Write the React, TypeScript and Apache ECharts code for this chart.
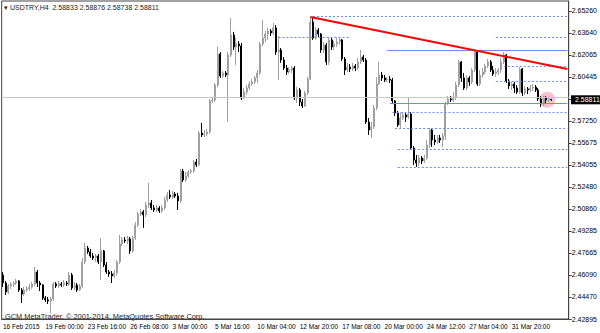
import React, { useEffect, useRef } from "react";
import * as echarts from "echarts";

// ---- axis labels ----
const xTickLabels = [
  "16 Feb 2015", "19 Feb 00:00", "23 Feb 16:00", "26 Feb 08:00", "3 Mar 00:00",
  "5 Mar 16:00", "10 Mar 04:00", "12 Mar 20:00", "17 Mar 08:00", "20 Mar 00:00",
  "24 Mar 12:00", "27 Mar 04:00", "31 Mar 20:00",
];
const yTickLabels = [
  "2.42895", "2.44470", "2.46090", "2.47665", "2.49285", "2.50860", "2.52480",
  "2.54055", "2.55675", "2.57250", "", "2.60445", "2.62065", "2.63640", "2.65260",
];
const Y_MIN = 2.42895;
const Y_STEP = 0.015975;
const Y_MAX = 2.65985;
const SLOT_COUNT = 214;
const BARS_PER_LABEL = 16;

// ---- H4 candles (open, close, low, high) ----
const opens = [
  2.4609, 2.4551, 2.4486, 2.4529, 2.4544, 2.4551, 2.4566, 2.4500, 2.4471, 2.4500,
  2.4508, 2.4522, 2.4544, 2.4631, 2.4551, 2.4537, 2.4442, 2.4428, 2.4420, 2.4435,
  2.4544, 2.4529, 2.4544, 2.4537, 2.4551, 2.4544, 2.4609, 2.4515, 2.4537, 2.4500,
  2.4529, 2.4704, 2.4805, 2.4776, 2.4747, 2.4733, 2.4747, 2.4704, 2.4784, 2.4682,
  2.4631, 2.4617, 2.4602, 2.4624, 2.4704, 2.4834, 2.4863, 2.4856, 2.4871, 2.4784,
  2.4878, 2.4972, 2.5052, 2.5067, 2.5045, 2.5118, 2.5132, 2.5096, 2.5081, 2.5096,
  2.5074, 2.5096, 2.5154, 2.5190, 2.5176, 2.5197, 2.5183, 2.5147, 2.5364, 2.5299,
  2.5328, 2.5357, 2.5364, 2.5430, 2.5408, 2.5640, 2.5626, 2.5633, 2.5648, 2.5873,
  2.5880, 2.5989, 2.6214, 2.6054, 2.6076, 2.6061, 2.6207, 2.6352, 2.6265, 2.6287,
  2.6272, 2.5894, 2.5938, 2.5967, 2.5996, 2.6011, 2.6040, 2.6076, 2.6287, 2.6330,
  2.6359, 2.6381, 2.6366, 2.6403, 2.6228, 2.6243, 2.6170, 2.6112, 2.6083, 2.6098,
  2.6112, 2.5894, 2.5953, 2.5865, 2.5836, 2.5931, 2.6032, 2.6446, 2.6330, 2.6388,
  2.6359, 2.6243, 2.6279, 2.6156, 2.6316, 2.6265, 2.6287, 2.6301, 2.6316, 2.6178,
  2.6098, 2.6119, 2.6105, 2.6127, 2.6112, 2.6156, 2.6192, 2.6170, 2.5720, 2.5662,
  2.5684, 2.5822, 2.5996, 2.6061, 2.6040, 2.6025, 2.6032, 2.6025, 2.5873, 2.5785,
  2.5698, 2.5749, 2.5771, 2.5756, 2.5778, 2.5531, 2.5444, 2.5422, 2.5459, 2.5437,
  2.5459, 2.5553, 2.5662, 2.5589, 2.5575, 2.5604, 2.5589, 2.5618, 2.5851, 2.5887,
  2.5880, 2.5902, 2.5989, 2.6156, 2.6040, 2.5967, 2.6040, 2.6011, 2.6098, 2.6228,
  2.5996, 2.6061, 2.6083, 2.6127, 2.6156, 2.6098, 2.6069, 2.6083, 2.6098, 2.6156,
  2.6207, 2.6018, 2.5982, 2.5996, 2.5967, 2.5938, 2.6105, 2.5931, 2.5960, 2.5953,
  2.5967, 2.5974, 2.5953, 2.5887, 2.5851, 2.5894, 2.5880, 2.58833,
];
const closes = [
  2.4551, 2.4486, 2.4529, 2.4544, 2.4551, 2.4566, 2.4500, 2.4471, 2.4500, 2.4508,
  2.4522, 2.4544, 2.4631, 2.4551, 2.4537, 2.4442, 2.4428, 2.4420, 2.4435, 2.4544,
  2.4529, 2.4544, 2.4537, 2.4551, 2.4544, 2.4609, 2.4515, 2.4537, 2.4500, 2.4529,
  2.4704, 2.4805, 2.4776, 2.4747, 2.4733, 2.4747, 2.4704, 2.4784, 2.4682, 2.4631,
  2.4617, 2.4602, 2.4624, 2.4704, 2.4834, 2.4863, 2.4856, 2.4871, 2.4784, 2.4878,
  2.4972, 2.5052, 2.5067, 2.5045, 2.5118, 2.5132, 2.5096, 2.5081, 2.5096, 2.5074,
  2.5096, 2.5154, 2.5190, 2.5176, 2.5197, 2.5183, 2.5147, 2.5364, 2.5299, 2.5328,
  2.5357, 2.5364, 2.5430, 2.5408, 2.5640, 2.5626, 2.5633, 2.5648, 2.5873, 2.5880,
  2.5989, 2.6214, 2.6054, 2.6076, 2.6061, 2.6207, 2.6352, 2.6265, 2.6287, 2.6272,
  2.5894, 2.5938, 2.5967, 2.5996, 2.6011, 2.6040, 2.6076, 2.6287, 2.6330, 2.6359,
  2.6381, 2.6366, 2.6403, 2.6228, 2.6243, 2.6170, 2.6112, 2.6083, 2.6098, 2.6112,
  2.5894, 2.5953, 2.5865, 2.5836, 2.5931, 2.6032, 2.6446, 2.6330, 2.6388, 2.6359,
  2.6243, 2.6279, 2.6156, 2.6316, 2.6265, 2.6287, 2.6301, 2.6316, 2.6178, 2.6098,
  2.6119, 2.6105, 2.6127, 2.6112, 2.6156, 2.6192, 2.6170, 2.5720, 2.5662, 2.5684,
  2.5822, 2.5996, 2.6061, 2.6040, 2.6025, 2.6032, 2.6025, 2.5873, 2.5785, 2.5698,
  2.5749, 2.5771, 2.5756, 2.5778, 2.5531, 2.5444, 2.5422, 2.5459, 2.5437, 2.5459,
  2.5553, 2.5662, 2.5589, 2.5575, 2.5604, 2.5589, 2.5618, 2.5851, 2.5887, 2.5880,
  2.5902, 2.5989, 2.6156, 2.6040, 2.5967, 2.6040, 2.6011, 2.6098, 2.6228, 2.5996,
  2.6061, 2.6083, 2.6127, 2.6156, 2.6098, 2.6069, 2.6083, 2.6098, 2.6156, 2.6207,
  2.6018, 2.5982, 2.5996, 2.5967, 2.5938, 2.6105, 2.5931, 2.5960, 2.5953, 2.5967,
  2.5974, 2.5953, 2.5887, 2.5851, 2.5894, 2.5880, 2.5887, 2.58811,
];
const lows = [
  2.4522, 2.4464, 2.4471, 2.4508, 2.4522, 2.4537, 2.4486, 2.4406, 2.4457, 2.4486,
  2.4493, 2.4508, 2.4529, 2.4522, 2.4493, 2.4428, 2.4413, 2.4398, 2.4333, 2.4420,
  2.4515, 2.4515, 2.4522, 2.4522, 2.4529, 2.4529, 2.4500, 2.4500, 2.4486, 2.4493,
  2.4515, 2.4689, 2.4762, 2.4733, 2.4718, 2.4704, 2.4689, 2.4573, 2.4667, 2.4617,
  2.4595, 2.4551, 2.4587, 2.4602, 2.4689, 2.4820, 2.4842, 2.4834, 2.4762, 2.4769,
  2.4863, 2.4958, 2.5038, 2.4951, 2.5030, 2.5096, 2.5081, 2.5067, 2.5067, 2.5060,
  2.5060, 2.5081, 2.5139, 2.5161, 2.5161, 2.5168, 2.5081, 2.5132, 2.5285, 2.5285,
  2.5314, 2.5342, 2.5350, 2.5393, 2.5401, 2.5611, 2.5611, 2.5618, 2.5633, 2.5858,
  2.5865, 2.5974, 2.6040, 2.6040, 2.6047, 2.5720, 2.6192, 2.6243, 2.6134, 2.6228,
  2.5880, 2.5887, 2.5916, 2.5953, 2.5982, 2.5996, 2.6003, 2.6061, 2.6272, 2.6301,
  2.6316, 2.6345, 2.6352, 2.6207, 2.6025, 2.6149, 2.6098, 2.6061, 2.6069, 2.6076,
  2.5880, 2.5858, 2.5836, 2.5822, 2.5829, 2.5916, 2.6025, 2.6316, 2.6316, 2.6337,
  2.6221, 2.6221, 2.6134, 2.6134, 2.6243, 2.6243, 2.6265, 2.6279, 2.6163, 2.6061,
  2.6083, 2.6083, 2.6090, 2.6090, 2.6098, 2.6141, 2.6156, 2.5706, 2.5626, 2.5604,
  2.5669, 2.5807, 2.5989, 2.6018, 2.6011, 2.6011, 2.6003, 2.5858, 2.5764, 2.5684,
  2.5677, 2.5735, 2.5720, 2.5742, 2.5517, 2.5408, 2.5393, 2.5401, 2.5415, 2.5422,
  2.5444, 2.5531, 2.5539, 2.5553, 2.5560, 2.5568, 2.5539, 2.5589, 2.5844, 2.5865,
  2.5865, 2.5880, 2.5974, 2.6011, 2.5953, 2.5953, 2.5982, 2.5996, 2.6083, 2.5982,
  2.5982, 2.6040, 2.6069, 2.6112, 2.6083, 2.6054, 2.6047, 2.6061, 2.6076, 2.6141,
  2.6003, 2.5960, 2.5953, 2.5931, 2.5923, 2.5923, 2.5909, 2.5916, 2.5923, 2.5938,
  2.5945, 2.5938, 2.5873, 2.5829, 2.5836, 2.5858, 2.5865, 2.58738,
];
const highs = [
  2.4631, 2.4566, 2.4544, 2.4558, 2.4566, 2.4580, 2.4573, 2.4515, 2.4522, 2.4529,
  2.4544, 2.4558, 2.4667, 2.4646, 2.4566, 2.4544, 2.4457, 2.4450, 2.4450, 2.4558,
  2.4558, 2.4566, 2.4558, 2.4573, 2.4566, 2.4631, 2.4624, 2.4558, 2.4551, 2.4544,
  2.4733, 2.4842, 2.4820, 2.4798, 2.4769, 2.4762, 2.4762, 2.4878, 2.4791, 2.4704,
  2.4646, 2.4638, 2.4646, 2.4718, 2.4900, 2.4885, 2.4885, 2.4892, 2.4885, 2.4892,
  2.4994, 2.5067, 2.5088, 2.5081, 2.5139, 2.5277, 2.5154, 2.5118, 2.5118, 2.5110,
  2.5118, 2.5176, 2.5212, 2.5226, 2.5219, 2.5212, 2.5205, 2.5379, 2.5379, 2.5357,
  2.5372, 2.5379, 2.5444, 2.5452, 2.5655, 2.5713, 2.5662, 2.5669, 2.5887, 2.5902,
  2.6003, 2.6265, 2.6228, 2.6090, 2.6090, 2.6228, 2.6475, 2.6374, 2.6330, 2.6308,
  2.6294, 2.5967, 2.5989, 2.6018, 2.6032, 2.6054, 2.6098, 2.6301, 2.6461, 2.6381,
  2.6403, 2.6395, 2.6439, 2.6424, 2.6345, 2.6257, 2.6192, 2.6134, 2.6119, 2.6127,
  2.6127, 2.5974, 2.5967, 2.5887, 2.5945, 2.6047, 2.6483, 2.6483, 2.6410, 2.6403,
  2.6366, 2.6301, 2.6294, 2.6337, 2.6330, 2.6308, 2.6330, 2.6330, 2.6323, 2.6192,
  2.6149, 2.6141, 2.6149, 2.6141, 2.6185, 2.6243, 2.6207, 2.6185, 2.5749, 2.5720,
  2.5844, 2.6047, 2.6156, 2.6083, 2.6061, 2.6047, 2.6054, 2.6040, 2.5880, 2.5800,
  2.5785, 2.5793, 2.5785, 2.5894, 2.5793, 2.5546, 2.5481, 2.5481, 2.5473, 2.5481,
  2.5589, 2.5677, 2.5669, 2.5626, 2.5626, 2.5626, 2.5640, 2.5865, 2.5909, 2.5909,
  2.5938, 2.6011, 2.6170, 2.6163, 2.6076, 2.6061, 2.6054, 2.6112, 2.6250, 2.6243,
  2.6098, 2.6112, 2.6141, 2.6178, 2.6170, 2.6127, 2.6112, 2.6112, 2.6185, 2.6228,
  2.6214, 2.6032, 2.6011, 2.6011, 2.5989, 2.6119, 2.6112, 2.5982, 2.5974, 2.5989,
  2.5996, 2.5989, 2.5967, 2.5909, 2.5909, 2.5909, 2.5902, 2.58876,
];

const lastQuote = { open: 2.58833, high: 2.58876, low: 2.58738, close: 2.58811 };

// ---- drawn levels (price, start bar, end bar, dotted) ----
const levelPrices = [2.6485, 2.6337, 2.6337, 2.6243, 2.6127, 2.6018, 2.5856, 2.5788, 2.5674, 2.5522, 2.5393];
const levelStarts = [117, 104, 186, 145, 189, 186, 146, 147, 148, 149, 149];
const levelEnds = [213, 131, 213, 213, 213, 213, 213, 213, 213, 213, 213];
const levelDotted = [true, true, true, false, true, true, false, true, true, true, true];
const trendStart = [116, 2.6483];
const trendEnd = [213, 2.6104];

const FONT = "Liberation Sans, Arial, sans-serif";

export default function App() {
  const ref = useRef<HTMLDivElement>(null);
  useEffect(() => {
    document.body.style.margin = "0";
    if (!ref.current) return;
    const chart = echarts.init(ref.current, undefined, { renderer: "svg" });
    const categories = Array.from({ length: SLOT_COUNT }, (_, i) => String(i));
    const data = closes.map((c, i) => [opens[i], c, lows[i], highs[i]]);
    const showIdx = (i: number) => i % BARS_PER_LABEL === 0 && i / BARS_PER_LABEL < xTickLabels.length;

    const levelLines = levelPrices.map((p, k) => [
      { coord: [levelStarts[k], p], lineStyle: { color: "#6b8cf0", width: 1, type: levelDotted[k] ? [2, 2] : "solid" } },
      { coord: [levelEnds[k], p] },
    ]);

    const option: any = {
      animation: false,
      backgroundColor: "#ffffff",
      grid: { left: 1, right: 29, top: 1, bottom: 14, show: true, borderColor: "#444", borderWidth: 1 },
      xAxis: {
        type: "category",
        data: categories,
        boundaryGap: true,
        axisLine: { lineStyle: { color: "#444", width: 1 } },
        axisTick: { alignWithLabel: true, interval: (i: number) => showIdx(i), length: 3, lineStyle: { color: "#444" } },
        axisLabel: {
          interval: (i: number) => showIdx(i),
          formatter: (_v: string, i: number) => xTickLabels[i / BARS_PER_LABEL] ?? "",
          align: "left",
          margin: 4,
          fontSize: 6.5,
          color: "#000",
          fontFamily: FONT,
        },
        splitLine: { show: false },
      },
      yAxis: {
        type: "value",
        position: "right",
        min: Y_MIN,
        max: Y_MAX,
        interval: Y_STEP,
        axisLine: { show: true, lineStyle: { color: "#444", width: 1 } },
        axisTick: { show: true, length: 3, lineStyle: { color: "#444" } },
        axisLabel: {
          showMaxLabel: false,
          formatter: (v: number) => {
            const k = (v - Y_MIN) / Y_STEP;
            if (Math.abs(k - Math.round(k)) > 0.02) return "";
            return yTickLabels[Math.round(k)] ?? "";
          },
          margin: 3,
          fontSize: 7,
          color: "#000",
          fontFamily: FONT,
        },
        splitLine: { show: false },
      },
      series: [
        {
          type: "candlestick",
          data,
          barWidth: 1.5,
          itemStyle: {
            color: "#a0a0a0",
            color0: "#000000",
            borderColor: "#a0a0a0",
            borderColor0: "#000000",
            borderWidth: 1,
          },
          markLine: {
            silent: true,
            symbol: ["none", "none"],
            label: { show: false },
            animation: false,
            data: [
              { yAxis: lastQuote.close, lineStyle: { color: "#c8c8c8", width: 1, type: "solid" } },
              ...levelLines,
              [
                { coord: trendStart, lineStyle: { color: "#ff0000", width: 2, type: "solid" } },
                { coord: trendEnd },
              ],
            ],
          },
        },
      ],
    };
    chart.setOption(option);

    const py = chart.convertToPixel({ yAxisIndex: 0 }, lastQuote.close) as number;
    const pc = chart.convertToPixel({ seriesIndex: 0 }, [205, lastQuote.close]) as number[];
    chart.setOption({
      graphic: [
        { type: "circle", z: 0, shape: { cx: pc[0] + 1, cy: py, r: 8 }, style: { fill: "rgba(240,120,150,0.45)" } },
        { type: "rect", z: 100, shape: { x: 571, y: py - 4.5, width: 29, height: 9 }, style: { fill: "#000" } },
        {
          type: "text", z: 101, x: 575, y: py,
          style: { text: lastQuote.close.toFixed(5), fill: "#fff", font: `7px ${FONT}`, verticalAlign: "middle" },
        },
        {
          type: "text", z: 101, x: 4, y: 7,
          style: {
            text: `\u25BE USDTRY,H4  ${lastQuote.open.toFixed(5)} ${lastQuote.high.toFixed(5)} ${lastQuote.low.toFixed(5)} ${lastQuote.close.toFixed(5)}`,
            fill: "#222", font: `7px ${FONT}`, verticalAlign: "middle",
          },
        },
        {
          type: "text", z: 101, x: 5, y: 316,
          style: { text: "GCM MetaTrader, \u00A9 2001-2014, MetaQuotes Software Corp.", fill: "#222", font: `7.4px ${FONT}`, verticalAlign: "middle" },
        },
      ],
    });
    return () => chart.dispose();
  }, []);
  return <div ref={ref} style={{ width: 600, height: 333 }} />;
}
